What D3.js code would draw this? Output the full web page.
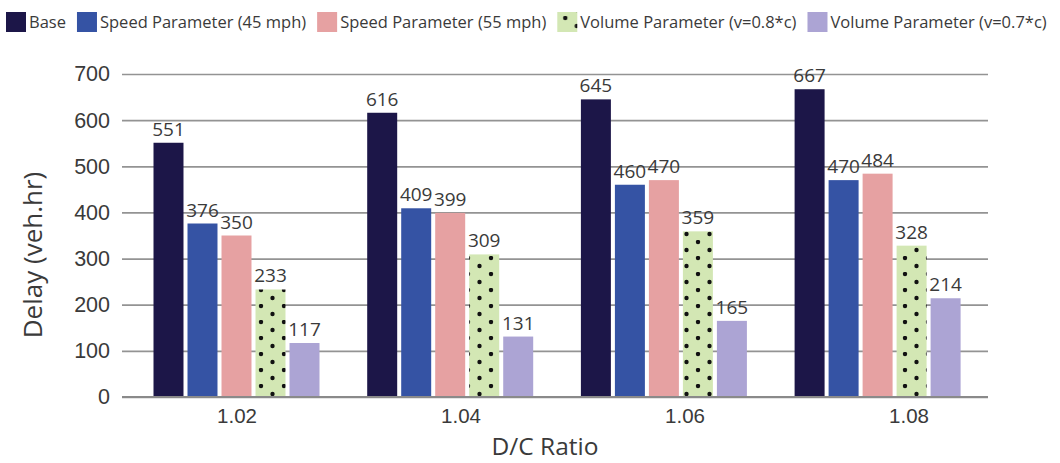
<!DOCTYPE html>
<html>
<head>
<meta charset="utf-8">
<script src="https://cdn.jsdelivr.net/npm/d3@7/dist/d3.min.js"></script>
<style>
  html, body { margin: 0; padding: 0; background: #fff; }
  svg { display: block; font-family: "Open Sans", "Noto Sans", sans-serif; }
</style>
</head>
<body>
<svg id="chart" width="1060" height="463"></svg>
<script>
// D/C ratio categories
const categories = ["1.02", "1.04", "1.06", "1.08"];

// Series names as shown in the legend
const seriesNames = [
  "Base",
  "Speed Parameter (45 mph)",
  "Speed Parameter (55 mph)",
  "Volume Parameter (v=0.8*c)",
  "Volume Parameter (v=0.7*c)"
];

// Delay (veh.hr) for each series, one value per D/C ratio
const baseDelay    = [551, 616, 645, 667];
const speed45Delay = [376, 409, 460, 470];
const speed55Delay = [350, 399, 470, 484];
const vol08Delay   = [233, 309, 359, 328];
const vol07Delay   = [117, 131, 165, 214];

// Y-axis tick values
const yTicks = [0, 100, 200, 300, 400, 500, 600, 700];

const seriesValues = [baseDelay, speed45Delay, speed55Delay, vol08Delay, vol07Delay];
const seriesFills = ["#1c1648", "#3553a4", "#e6a1a2", "url(#dots)", "#aca4d4"];
const textColor = "#3a3a3a";

const svg = d3.select("#chart");

// Dotted fill for the v=0.8*c series
const defs = svg.append("defs");
const pat = defs.append("pattern")
  .attr("id", "dots")
  .attr("patternUnits", "userSpaceOnUse")
  .attr("width", 23).attr("height", 16);
pat.append("rect").attr("width", 23).attr("height", 16).attr("fill", "#d3e7b4");
pat.append("circle").attr("cx", 8).attr("cy", 2).attr("r", 2.2).attr("fill", "#111");
pat.append("circle").attr("cx", 19.5).attr("cy", 10).attr("r", 2.2).attr("fill", "#111");

// Plot area
const plotLeft = 122, plotRight = 988, plotTop = 74, plotBottom = 397;

const y = d3.scaleLinear().domain([0, 700]).range([plotBottom, plotTop]);

// Group positions for the bars
const xGroup = d3.scaleBand().domain(categories).range([129.65, 984.45]);
const groupSpan = 166;
const xSeries = d3.scaleBand().domain(seriesNames).range([0, groupSpan]).paddingInner(0.118);

// Category label positions
const xLabel = d3.scaleBand().domain(categories).range([125, 1021]);

// Gridlines and y tick labels
const yAxis = d3.axisLeft(y)
  .tickValues(yTicks)
  .tickSize(-(plotRight - plotLeft))
  .tickPadding(12)
  .tickFormat(d3.format("d"));

const gy = svg.append("g")
  .attr("transform", `translate(${plotLeft},0)`)
  .call(yAxis);
gy.select(".domain").remove();
gy.selectAll(".tick line")
  .attr("stroke", "#939393")
  .attr("stroke-width", 1.7);
gy.selectAll(".tick text")
  .attr("fill", textColor)
  .style("font-size", "21.5px");

// Bars
const rows = [];
seriesNames.forEach((s, si) => {
  categories.forEach((c, ci) => {
    rows.push({ series: s, si, category: c, value: seriesValues[si][ci] });
  });
});

const barX = d => xGroup(d.category) + (xGroup.bandwidth() - groupSpan) / 2 + xSeries(d.series);

svg.append("g").selectAll("rect")
  .data(rows)
  .join("rect")
  .attr("x", barX)
  .attr("y", d => y(d.value))
  .attr("width", xSeries.bandwidth())
  .attr("height", d => y(0) - y(d.value))
  .attr("fill", d => seriesFills[d.si]);

// Value labels above the bars
svg.append("g").selectAll("text")
  .data(rows)
  .join("text")
  .attr("x", d => barX(d) + xSeries.bandwidth() / 2)
  .attr("y", d => y(d.value) - 7)
  .attr("text-anchor", "middle")
  .attr("fill", textColor)
  .style("font-size", "19px")
  .text(d => d.value);

// X axis baseline
svg.append("line")
  .attr("x1", plotLeft).attr("x2", plotRight)
  .attr("y1", y(0)).attr("y2", y(0))
  .attr("stroke", "#8a8a8a")
  .attr("stroke-width", 2);

// Category labels
const gx = svg.append("g")
  .attr("transform", `translate(0,${plotBottom})`)
  .call(d3.axisBottom(xLabel).tickSize(0).tickPadding(11));
gx.select(".domain").remove();
gx.selectAll(".tick text")
  .attr("fill", textColor)
  .style("font-size", "20.5px");

// Axis titles
svg.append("text")
  .attr("x", 545).attr("y", 455)
  .attr("text-anchor", "middle")
  .attr("fill", textColor)
  .style("font-size", "24.5px")
  .text("D/C Ratio");

svg.append("text")
  .attr("transform", "translate(42,255) rotate(-90)")
  .attr("text-anchor", "middle")
  .attr("fill", textColor)
  .style("font-size", "26px")
  .text("Delay (veh.hr)");

// Legend
const legend = svg.append("g");
let lx = 6;
seriesNames.forEach((s, si) => {
  const item = legend.append("g").attr("transform", `translate(${lx},0)`);
  item.append("rect")
    .attr("x", 0).attr("y", 12)
    .attr("width", 20).attr("height", 20)
    .attr("fill", seriesFills[si]);
  const t = item.append("text")
    .attr("x", 23).attr("y", 27.5)
    .attr("fill", textColor)
    .style("font-size", "16.5px")
    .text(s);
  lx += 23 + t.node().getComputedTextLength() + 11;
});
</script>
</body>
</html>
